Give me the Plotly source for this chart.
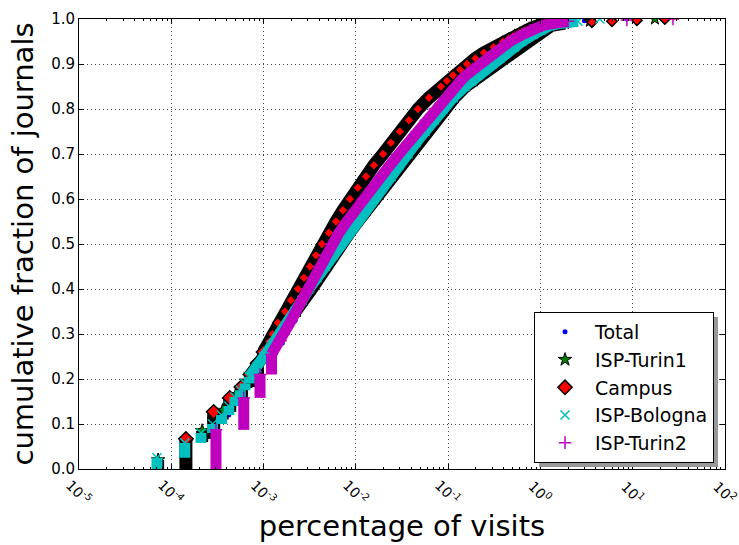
import math
import plotly.graph_objects as go

# ---------------- data (percentage of visits, cumulative fraction) ----------------
# low range: tied values -> vertical columns of points
total_col_pct = [7.0e-5, 1.44e-4, 2.1e-4, 3.05e-4, 4.2e-4, 6.1e-4]
total_col_cum = [0.02, 0.055, 0.075, 0.087, 0.12, 0.155]
total_pct = [9.1e-4, 1.2e-3, 1.6e-3, 2.2e-3, 3.0e-3, 4.1e-3, 5.6e-3, 7.6e-3, 1.03e-2, 1.4e-2,
             1.9e-2, 2.6e-2, 3.6e-2, 5.0e-2, 7.2e-2, 0.11, 0.17, 0.3, 0.55, 1.0, 1.6, 3.0, 8.65]
total_cum = [0.2, 0.24, 0.28, 0.33, 0.38, 0.43, 0.47, 0.51, 0.55, 0.59,
             0.63, 0.67, 0.71, 0.75, 0.79, 0.83, 0.87, 0.91, 0.95, 0.975, 0.99, 0.996, 1.0]

turin1_col_pct = [7.2e-5, 1.44e-4, 2.16e-4, 2.88e-4, 3.6e-4, 4.3e-4, 5.0e-4, 5.76e-4, 6.5e-4, 7.2e-4]
turin1_col_cum = [0.02, 0.06, 0.085, 0.11, 0.13, 0.15, 0.165, 0.18, 0.195, 0.21]
turin1_pct = [1.01e-3, 1.26e-3, 1.58e-3, 1.88e-3, 2.30e-3, 2.74e-3, 3.35e-3, 3.98e-3, 4.86e-3, 5.79e-3,
              7.07e-3, 8.63e-3, 1.06e-2, 1.32e-2, 1.65e-2, 2.02e-2, 2.52e-2, 3.08e-2, 3.85e-2, 4.71e-2,
              5.89e-2, 7.37e-2, 9.22e-2, 0.118, 0.156, 0.19, 0.222, 0.265, 0.316, 0.385, 0.46, 0.56,
              0.67, 0.86, 1.03, 1.32, 1.84, 3.44, 17.4]
turin1_cum = [0.25, 0.275, 0.30, 0.325, 0.35, 0.375, 0.40, 0.425, 0.45, 0.475,
              0.50, 0.525, 0.55, 0.575, 0.60, 0.625, 0.65, 0.675, 0.70, 0.725,
              0.75, 0.775, 0.80, 0.825, 0.85, 0.8625, 0.875, 0.8875, 0.90, 0.9125, 0.925, 0.9375,
              0.95, 0.965, 0.975, 0.985, 0.99, 0.995, 1.0]

campus_col_pct = [1.44e-4, 2.88e-4, 4.3e-4, 5.75e-4, 7.2e-4, 8.6e-4, 1.0e-3]
campus_col_cum = [0.067, 0.127, 0.158, 0.182, 0.21, 0.235, 0.26]
campus_pct = [1.15e-3, 1.25e-3, 1.43e-3, 1.71e-3, 1.98e-3, 2.36e-3, 2.74e-3, 3.18e-3, 3.70e-3, 4.29e-3,
              5.11e-3, 6.09e-3, 7.25e-3, 8.63e-3, 1.05e-2, 1.29e-2, 1.57e-2, 1.97e-2, 2.40e-2, 3.00e-2,
              3.76e-2, 4.71e-2, 6.19e-2, 8.36e-2, 0.097, 0.113, 0.135, 0.160, 0.197, 0.244, 0.31, 0.392,
              0.46, 0.529, 0.60, 0.679, 0.80, 0.940, 1.21, 3.61, 5.96, 11.1, 22.3]
campus_cum = [0.283, 0.30, 0.325, 0.35, 0.375, 0.40, 0.425, 0.45, 0.475, 0.50,
              0.525, 0.55, 0.575, 0.60, 0.625, 0.65, 0.675, 0.70, 0.725, 0.75,
              0.775, 0.80, 0.825, 0.85, 0.8625, 0.875, 0.8875, 0.90, 0.9125, 0.925, 0.9375, 0.95,
              0.958, 0.965, 0.97, 0.975, 0.98, 0.985, 0.99, 0.993, 0.995, 0.997, 1.0]

bologna_col_pct = [7.0e-5, 1.4e-4, 2.1e-4, 2.8e-4, 3.5e-4, 4.2e-4, 4.9e-4, 5.6e-4, 6.3e-4, 7.0e-4]
bologna_col_cum = [0.025, 0.058, 0.08, 0.10, 0.12, 0.14, 0.16, 0.175, 0.19, 0.205]
bologna_pct = [8.48e-4, 1.01e-3, 1.23e-3, 1.51e-3, 1.84e-3, 2.19e-3, 2.61e-3, 3.10e-3, 3.79e-3, 4.63e-3,
               5.65e-3, 6.90e-3, 8.42e-3, 1.03e-2, 1.25e-2, 1.57e-2, 1.92e-2, 2.40e-2, 2.93e-2, 3.67e-2,
               4.48e-2, 5.61e-2, 7.02e-2, 8.79e-2, 0.113, 0.152, 0.18, 0.210, 0.25, 0.298, 0.36, 0.423,
               0.52, 0.630, 0.829, 1.01, 1.27, 1.63, 2.55, 4.41]
bologna_cum = [0.225, 0.25, 0.275, 0.30, 0.325, 0.35, 0.375, 0.40, 0.425, 0.45,
               0.475, 0.50, 0.525, 0.55, 0.575, 0.60, 0.625, 0.65, 0.675, 0.70,
               0.725, 0.75, 0.775, 0.80, 0.825, 0.85, 0.8625, 0.875, 0.8875, 0.90, 0.9125, 0.925,
               0.9375, 0.95, 0.965, 0.975, 0.985, 0.99, 0.995, 1.0]

turin2_col_pct = [3.05e-4, 6.1e-4, 9.15e-4, 1.22e-3]
turin2_col_cum = [0.087, 0.158, 0.21, 0.255]
turin2_pct = [1.525e-3, 1.66e-3, 1.93e-3, 2.24e-3, 2.61e-3, 2.95e-3, 3.43e-3, 3.98e-3, 4.63e-3, 5.37e-3,
              6.56e-3, 8.01e-3, 9.78e-3, 1.19e-2, 1.49e-2, 1.87e-2, 2.34e-2, 2.93e-2, 3.67e-2, 4.59e-2,
              5.75e-2, 7.19e-2, 9.23e-2, 0.1185, 0.136, 0.156, 0.185, 0.216, 0.26, 0.313, 0.38, 0.467,
              0.630, 0.770, 1.04, 1.33, 1.99, 8.65, 27.3]
turin2_cum = [0.285, 0.30, 0.325, 0.35, 0.375, 0.40, 0.425, 0.45, 0.475, 0.50,
              0.525, 0.55, 0.575, 0.60, 0.625, 0.65, 0.675, 0.70, 0.725, 0.75,
              0.775, 0.80, 0.825, 0.85, 0.8625, 0.875, 0.8875, 0.90, 0.9125, 0.925, 0.9375, 0.95,
              0.965, 0.975, 0.985, 0.99, 0.995, 0.998, 1.0]

series_names = ["Total", "ISP-Turin1", "Campus", "ISP-Bologna", "ISP-Turin2"]
xtick_exponents = [-5, -4, -3, -2, -1, 0, 1, 2]
ytick_values = [0.0, 0.1, 0.2, 0.3, 0.4, 0.5, 0.6, 0.7, 0.8, 0.9, 1.0]

# ---------------- styles ----------------
styles = {
    "Total":       dict(band=None, bandw=0, sym="circle", size=5, csize=5, fill="#0000FF", edge="#0000FF", ew=0),
    "ISP-Turin1":  dict(band="#000000", bandw=12, sym="star", size=9, csize=10, fill="#008000", edge="#000000", ew=1),
    "Campus":      dict(band="#000000", bandw=13, sym="diamond", size=8, csize=11, fill="#FF0000", edge="#000000", ew=1.5),
    "ISP-Bologna": dict(band="#00BFBF", bandw=11, sym="x-thin", size=9, csize=9, fill="#00BFBF", edge="#00BFBF", ew=1.5),
    "ISP-Turin2":  dict(band="#BF00BF", bandw=11, sym="cross-thin", size=9, csize=9, fill="#BF00BF", edge="#BF00BF", ew=1.5),
}
data = {
    "Total": (total_col_pct, total_col_cum, total_pct, total_cum),
    "ISP-Turin1": (turin1_col_pct, turin1_col_cum, turin1_pct, turin1_cum),
    "Campus": (campus_col_pct, campus_col_cum, campus_pct, campus_cum),
    "ISP-Bologna": (bologna_col_pct, bologna_col_cum, bologna_pct, bologna_cum),
    "ISP-Turin2": (turin2_col_pct, turin2_col_cum, turin2_pct, turin2_cum),
}


def band_path(cx, cy, xs, ys, max_gap=0.2):
    """vertical columns for tied values, then a polyline (broken on big gaps)"""
    px, py = [], []
    prev = 0.0
    for x, y in zip(cx, cy):
        px += [x, x, None]
        py += [prev, y, None]
        prev = y
    last_x, last_y = cx[-1], cy[-1]
    px.append(last_x)
    py.append(last_y)
    for x, y in zip(xs, ys):
        if math.log10(x) - math.log10(last_x) > max_gap:
            px.append(None)
            py.append(None)
        px.append(x)
        py.append(y)
        last_x, last_y = x, y
    return px, py


fig = go.Figure()
for name in series_names:
    cx, cy, xs, ys = data[name]
    st = styles[name]
    if st["band"]:
        bx, by = band_path(cx, cy, xs, ys)
        fig.add_trace(go.Scatter(x=bx, y=by, mode="lines", showlegend=False, hoverinfo="skip",
                                 line=dict(color=st["band"], width=st["bandw"]), connectgaps=False))
    # column tops (legend entry) and the continuous part
    fig.add_trace(go.Scatter(x=cx, y=cy, mode="markers", name=name, legendgroup=name,
                             marker=dict(symbol=st["sym"], size=st["csize"], color=st["fill"],
                                         line=dict(color=st["edge"], width=st["ew"]))))
    fig.add_trace(go.Scatter(x=xs, y=ys, mode="markers", name=name, legendgroup=name, showlegend=False,
                             marker=dict(symbol=st["sym"], size=st["size"], color=st["fill"],
                                         line=dict(color=st["edge"], width=st["ew"]))))

font = "DejaVu Sans"
annotations = []
for e in xtick_exponents:
    annotations.append(dict(x=e, y=0, xref="x", yref="paper", yshift=-23,
                            text="10<sup>%d</sup>" % e, showarrow=False, textangle=45,
                            font=dict(family=font, size=14, color="black"),
                            xanchor="center", yanchor="middle"))

fig.update_layout(
    width=739, height=545,
    margin=dict(l=79, r=14, t=19, b=76, autoexpand=False),
    paper_bgcolor="white", plot_bgcolor="white",
    font=dict(family=font, color="black"),
    annotations=annotations,
    shapes=[dict(type="rect", xref="paper", yref="paper", x0=0.7121, x1=0.9892, y0=0.0044, y1=0.3378,
                 fillcolor="#999999", line=dict(width=0), layer="above")],
    legend=dict(x=0.983, y=0.0133, xanchor="right", yanchor="bottom",
                bgcolor="white", bordercolor="black", borderwidth=1,
                font=dict(family=font, size=19, color="black"),
                itemwidth=50, tracegroupgap=0),
    showlegend=True,
)
fig.update_xaxes(type="log", range=[-5, 2], showline=True, linecolor="black", linewidth=1, mirror="ticks",
                 ticks="inside", ticklen=5, tickcolor="black", dtick=1, showticklabels=False,
                 showgrid=True, gridcolor="#444444", gridwidth=1, griddash="1px,3px", zeroline=False,
                 minor=dict(ticks="inside", ticklen=2, tickcolor="black", showgrid=False),
                 title=dict(text="percentage of visits", font=dict(family=font, size=29), standoff=46),
                 automargin=False)
fig.update_yaxes(range=[0, 1], showline=True, linecolor="black", linewidth=1, mirror="ticks",
                 ticks="inside", ticklen=5, tickcolor="black", tickvals=ytick_values, tickformat=".1f",
                 tickfont=dict(family=font, size=15),
                 showgrid=True, gridcolor="#444444", gridwidth=1, griddash="1px,3px", zeroline=False,
                 title=dict(text="cumulative fraction of journals", font=dict(family=font, size=29), standoff=8),
                 automargin=False)

fig.write_html("out.html")
